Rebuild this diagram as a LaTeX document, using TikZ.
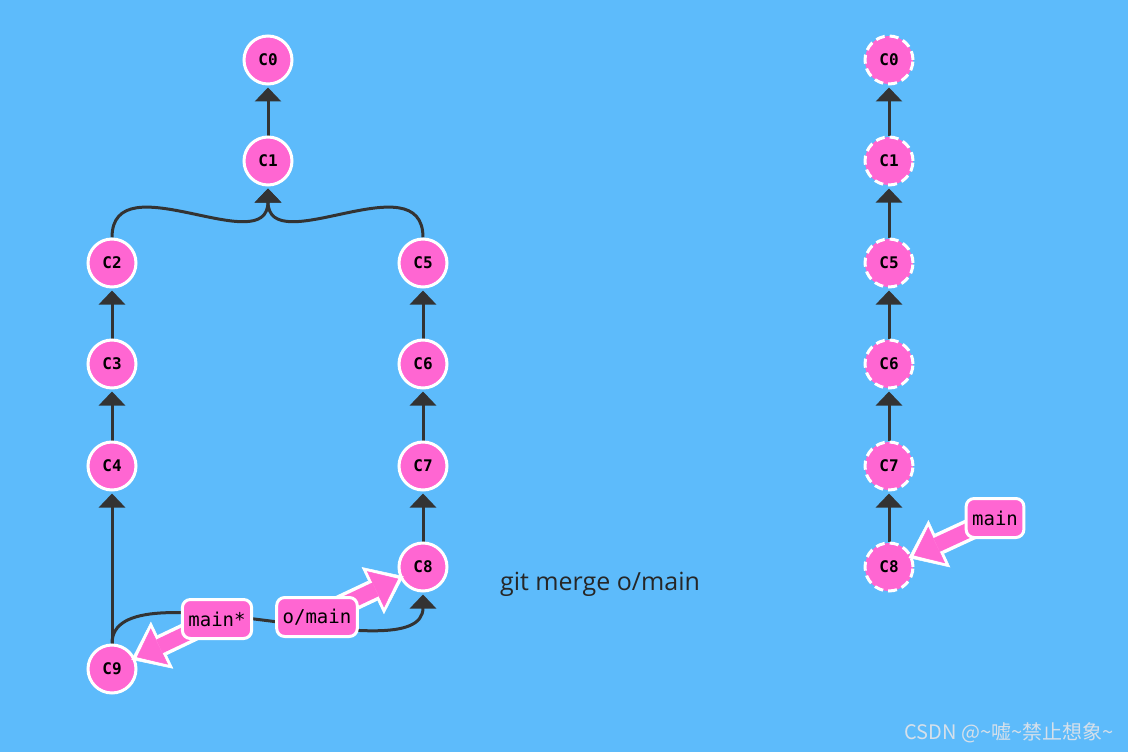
\documentclass[tikz,border=0pt]{standalone}
\usepackage{fontspec}
\setmainfont{Open Sans}
\setmonofont{DejaVu Sans Mono}
\newfontfamily\cjkfont{Noto Sans CJK SC}
\usetikzlibrary{arrows.meta}

\definecolor{skyblue}{RGB}{93,187,251}
\definecolor{commitpink}{RGB}{255,102,210}
\definecolor{edgegray}{RGB}{51,51,51}
\definecolor{marksilver}{RGB}{214,224,234}

\pgfdeclarelayer{sky}
\pgfdeclarelayer{background}
\pgfdeclarelayer{pointer}
\pgfdeclarelayer{front}
\pgfsetlayers{sky,background,main,pointer,front}

\tikzset{
  commit/.style={circle,fill=commitpink,draw=white,line width=3pt,minimum size=48pt,
    inner sep=0pt,font=\ttfamily\bfseries\fontsize{16}{16}\selectfont},
  ghost/.style={commit,dash pattern=on 9pt off 5pt},
  branch/.style={rectangle,rounded corners=8pt,fill=commitpink,draw=white,line width=3pt,
    minimum height=39pt,inner xsep=6pt,font=\ttfamily\fontsize{19}{19}\selectfont},
  parent/.style={draw=edgegray,line width=3pt,-{Triangle[width=26pt,length=14pt]},shorten >=2pt},
}

% fat pink pointer from a branch label to its commit
\newcommand\branchptr[2]{%
  \begin{pgfonlayer}{pointer}
    \draw[white,line width=22pt,-{Triangle[width=52pt,length=34pt,line width=0.5pt]},shorten >=-4pt]
      (#1.center) -- (#2);
    \draw[commitpink,line width=15pt,-{Triangle[width=40pt,length=25pt,line width=0.5pt]},shorten >=2pt]
      (#1.center) -- (#2);
  \end{pgfonlayer}}

\begin{document}
\begin{tikzpicture}[x=1pt,y=-1pt]
  \begin{pgfonlayer}{sky}
    \fill[skyblue] (0,0) rectangle (1128,752);
  \end{pgfonlayer}
  \useasboundingbox (0,0) rectangle (1128,752);

  % ================= before the merge (left) =================
  \foreach \id/\x/\y in {0/268/60,1/268/161,2/112/263,3/112/364,4/112/466,9/112/669,
                         5/423/263,6/423/364,7/423/466,8/423/567}
    \node[commit] (c\id) at (\x,\y) {C\id};

  \begin{pgfonlayer}{background}
    \foreach \a/\b in {1/0,3/2,4/3,9/4,6/5,7/6,8/7}
      \draw[parent] (c\a) -- (c\b);
    \draw[parent] (c2.north) .. controls +(0,-77) and +(0,75) .. (c1.south);
    \draw[parent] (c5.north) .. controls +(0,-77) and +(0,75) .. (c1.south);
    \draw[parent] (c9.north) .. controls +(0,-82) and +(0,84) .. (c8.south);
  \end{pgfonlayer}

  % branch labels
  \begin{pgfonlayer}{front}
    \node[branch] (mainstar) at (217,619) {main*};
    \node[branch] (omain) at (317,617) {o/main};
  \end{pgfonlayer}
  \branchptr{mainstar}{c9}
  \branchptr{omain}{c8}

  % command
  \node[text=black!85,font=\fontsize{25}{25}\selectfont] (cmd) at (600,584) {git merge o/main};

  % ================= after the merge (right) =================
  \foreach \id/\y in {0/60,1/161,5/263,6/364,7/466,8/567}
    \node[ghost] (r\id) at (889,\y) {C\id};

  \begin{pgfonlayer}{background}
    \foreach \a/\b in {1/0,5/1,6/5,7/6,8/7}
      \draw[parent] (r\a) -- (r\b);
  \end{pgfonlayer}

  \begin{pgfonlayer}{front}
    \node[branch] (rmain) at (995,518) {main};
  \end{pgfonlayer}
  \branchptr{rmain}{r8}

  % watermark
  \node[text=marksilver,font=\cjkfont\fontsize{20}{20}\selectfont] (mark) at (1009,733)
    {CSDN @\textasciitilde 嘘\textasciitilde 禁止想象\textasciitilde};
\end{tikzpicture}
\end{document}
